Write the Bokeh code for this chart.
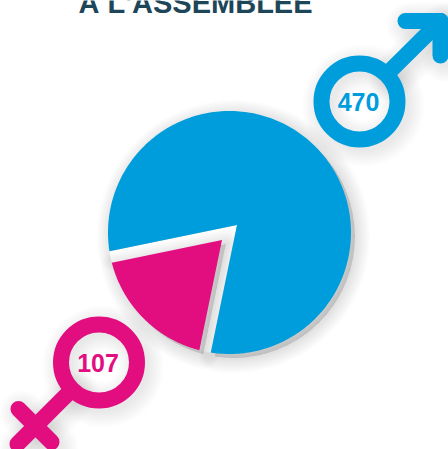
import numpy as np
from bokeh.core.properties import value
from bokeh.embed import file_html
from bokeh.models import Range1d
from bokeh.plotting import figure
from bokeh.resources import INLINE

# Seats held at the assembly
categories = ["Hommes", "Femmes"]
seats = [470, 107]
colors = ["#009DDC", "#E20D7F"]
title_text = "À L'ASSEMBLÉE"

W, H = 448, 449
CX, CY, R = 229.0, 232.0, 121.5
GAP = 10.6          # distance of each slice's apex from the pie centre
CUT_DIR = 135.0     # screen direction of the small slice's bisector (y grows downward)
RING_OUT, RING_IN = 46.0, 30.0
STROKE = RING_OUT - RING_IN

p = figure(width=W, height=H, x_range=Range1d(0, W), y_range=Range1d(H, 0),
           output_backend="svg", toolbar_location=None, min_border=0,
           outline_line_color=None, background_fill_color="white",
           border_fill_color="white")
p.axis.visible = False
p.grid.visible = False


def ray_to_circle(ax, ay, deg):
    """Where a ray from the apex at the given angle leaves the pie's circle."""
    dx, dy = np.cos(np.radians(deg)), np.sin(np.radians(deg))
    fx, fy = ax - CX, ay - CY
    b = fx * dx + fy * dy
    t = -b + np.sqrt(b * b - (fx * fx + fy * fy - R * R))
    return ax + t * dx, ay + t * dy


def sector(apex_dir, start, sweep):
    """Outline of a slice: an offset apex joined to an arc of the shared circle."""
    ax = CX + GAP * np.cos(np.radians(apex_dir))
    ay = CY + GAP * np.sin(np.radians(apex_dir))
    x0, y0 = ray_to_circle(ax, ay, start)
    x1, y1 = ray_to_circle(ax, ay, start + sweep)
    t0 = np.arctan2(y0 - CY, x0 - CX)
    t1 = np.arctan2(y1 - CY, x1 - CX)
    if t1 < t0:
        t1 += 2 * np.pi
    t = np.linspace(t0, t1, 240)
    return (np.r_[ax, CX + R * np.cos(t)], np.r_[ay, CY + R * np.sin(t)])


total = sum(seats)
small_sweep = seats[1] / total * 360.0
big_sweep = seats[0] / total * 360.0
small_start = CUT_DIR - small_sweep / 2

blue_x, blue_y = sector(CUT_DIR - 180.0, small_start + small_sweep, big_sweep)
pink_x, pink_y = sector(CUT_DIR, small_start, small_sweep)
gap_x, gap_y = sector(CUT_DIR - 180.0, small_start, small_sweep)

# Male symbol strokes
male_shaft = ([359 + RING_OUT * 0.6, 440], [101 - RING_OUT * 0.6, 20.5])
male_head = ([405, 440, 440], [20.5, 20.5, 55])
# Female symbol strokes
fem_shaft = ([98.5 - RING_OUT * 0.6, 17], [362 + RING_OUT * 0.6, 443.5])
fem_bar = ([18, 51], [408.5, 441.5])

# Blur stand-in: faint copies, widening step by step, darkest against the shape
SPREADS = (0, 3, 6, 9, 12, 15, 18, 21, 24, 27, 30)
LAYER_ALPHA = 0.011


def shadow_patch(xs, ys, dx=4, dy=4):
    for spread in SPREADS:
        p.patch(xs + dx, ys + dy, fill_color="black", fill_alpha=LAYER_ALPHA,
                line_color="black", line_alpha=LAYER_ALPHA if spread else 0,
                line_width=max(spread, 1), line_join="round")


def shadow_ring(cx, cy, shafts, dx=4, dy=4):
    for spread in SPREADS:
        p.circle(cx + dx, cy + dy, radius=(RING_OUT + RING_IN) / 2,
                 fill_color=None, line_color="black", line_alpha=LAYER_ALPHA * 0.8,
                 line_width=STROKE + spread)
        for sx, sy in shafts:
            p.line(np.array(sx) + dx, np.array(sy) + dy, line_color="black",
                   line_alpha=LAYER_ALPHA * 0.8, line_width=STROKE + spread,
                   line_cap="round", line_join="round")


shadow_patch(blue_x, blue_y)
# The notch stays clean: only the small slice casts a shadow into it
p.patch(gap_x, gap_y, fill_color="white", line_color=None)
shadow_patch(pink_x, pink_y)
shadow_ring(359, 101, [male_shaft, male_head])
shadow_ring(98.5, 362, [fem_shaft, fem_bar])

p.patch(blue_x, blue_y, fill_color=colors[0], line_color=None)
p.patch(pink_x, pink_y, fill_color=colors[1], line_color=None)


def symbol(cx, cy, color, strokes, label):
    p.circle(cx, cy, radius=(RING_OUT + RING_IN) / 2, fill_color=None,
             line_color=color, line_width=STROKE)
    for sx, sy in strokes:
        p.line(sx, sy, line_color=color, line_width=STROKE,
               line_cap="round", line_join="round")
    p.text([cx - 1], [cy], text=[str(label)], text_color=color,
           text_font=value("Liberation Sans"), text_font_style="bold",
           text_font_size="25px", text_align="center", text_baseline="middle")


symbol(359, 101, colors[0], [male_shaft, male_head], seats[0])
symbol(98.5, 362, colors[1], [fem_shaft, fem_bar], seats[1])

p.text([195], [2], text=[title_text], text_color="#1D4658",
       text_font=value("Liberation Sans"), text_font_style="bold",
       text_font_size="29px", text_align="center", text_baseline="alphabetic")

open("out.html", "w").write(file_html(p, INLINE))
